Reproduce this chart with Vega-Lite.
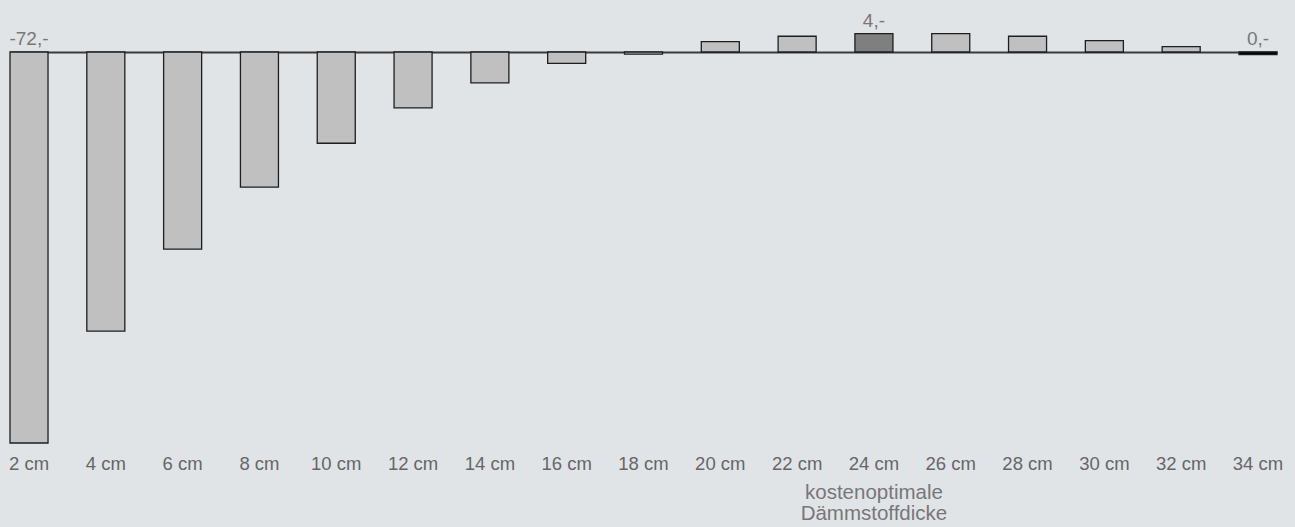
{
  "$schema": "https://vega.github.io/schema/vega-lite/v6.json",
  "width": 1267,
  "height": 432,
  "autosize": {"type": "none"},
  "padding": {"left": 10, "top": 11, "right": 18, "bottom": 84},
  "background": "#e1e4e7",
  "config": {"view": {"stroke": null}, "font": "Liberation Sans"},
  "data": {"values": [
    {"d": "2 cm", "v": -72.0, "kind": "normal", "label": "-72,-", "note": ""},
    {"d": "4 cm", "v": -51.4, "kind": "normal", "label": "", "note": ""},
    {"d": "6 cm", "v": -36.3, "kind": "normal", "label": "", "note": ""},
    {"d": "8 cm", "v": -24.9, "kind": "normal", "label": "", "note": ""},
    {"d": "10 cm", "v": -16.8, "kind": "normal", "label": "", "note": ""},
    {"d": "12 cm", "v": -10.3, "kind": "normal", "label": "", "note": ""},
    {"d": "14 cm", "v": -5.7, "kind": "normal", "label": "", "note": ""},
    {"d": "16 cm", "v": -2.1, "kind": "normal", "label": "", "note": ""},
    {"d": "18 cm", "v": -0.4, "kind": "normal", "label": "", "note": ""},
    {"d": "20 cm", "v": 1.9, "kind": "normal", "label": "", "note": ""},
    {"d": "22 cm", "v": 2.9, "kind": "normal", "label": "", "note": ""},
    {"d": "24 cm", "v": 3.4, "kind": "optimal", "label": "4,-", "note": "kostenoptimale|Dämmstoffdicke"},
    {"d": "26 cm", "v": 3.4, "kind": "normal", "label": "", "note": ""},
    {"d": "28 cm", "v": 2.9, "kind": "normal", "label": "", "note": ""},
    {"d": "30 cm", "v": 2.1, "kind": "normal", "label": "", "note": ""},
    {"d": "32 cm", "v": 1.0, "kind": "normal", "label": "", "note": ""},
    {"d": "34 cm", "v": -0.5, "kind": "current", "label": "0,-", "note": ""}
  ]},
  "encoding": {
    "x": {
      "field": "d", "type": "nominal",
      "scale": {"domain": ["2 cm","4 cm","6 cm","8 cm","10 cm","12 cm","14 cm","16 cm","18 cm","20 cm","22 cm","24 cm","26 cm","28 cm","30 cm","32 cm","34 cm"], "paddingInner": 0.505, "paddingOuter": 0},
      "axis": {"title": null, "domain": false, "ticks": false, "labelAngle": 0, "labelFontSize": 18.5, "labelColor": "#666666", "labelPadding": 11, "labelFont": "Liberation Sans"}
    }
  },
  "layer": [
    {
      "mark": {"type": "bar", "stroke": "#1e1e1e", "strokeWidth": 1.3},
      "encoding": {
        "y": {
          "field": "v", "type": "quantitative",
          "scale": {"domain": [-72, 7.55], "nice": false, "zero": true},
          "axis": {"values": [0], "grid": true, "gridColor": "#3a3a3a", "gridWidth": 2, "gridOpacity": 1, "labels": false, "ticks": false, "domain": false, "title": null}
        },
        "color": {
          "field": "kind", "type": "nominal",
          "scale": {"domain": ["normal", "optimal", "current"], "range": ["#c0c0c0", "#7f7f7f", "#000000"]},
          "legend": null
        }
      }
    },
    {
      "transform": [{"filter": "datum.label != ''"}, {"calculate": "max(datum.v, 0)", "as": "ly"}],
      "mark": {"type": "text", "fontSize": 19, "color": "#777777", "baseline": "bottom", "dy": -3},
      "encoding": {
        "y": {"field": "ly", "type": "quantitative"},
        "text": {"field": "label"}
      }
    },
    {
      "transform": [{"filter": "datum.note != ''"}],
      "mark": {"type": "text", "fontSize": 20.5, "color": "#777777", "baseline": "top", "lineHeight": 21, "lineBreak": "|", "dy": 40},
      "encoding": {
        "y": {"datum": -72, "type": "quantitative"},
        "text": {"field": "note"}
      }
    }
  ]
}
